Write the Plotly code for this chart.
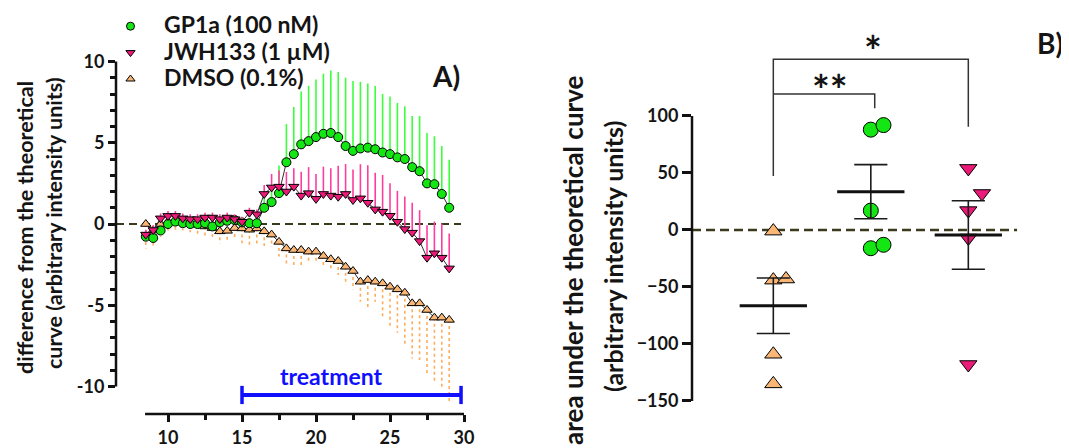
import plotly.graph_objects as go
import numpy as np

# ---------------- Panel A data ----------------
time_min = [8.5, 9, 9.5, 10, 10.5, 11, 11.5, 12, 12.5, 13, 13.5, 14, 14.5, 15, 15.5, 16,
            16.5, 17, 17.5, 18, 18.5, 19, 19.5, 20, 20.5, 21, 21.5, 22, 22.5, 23, 23.5,
            24, 24.5, 25, 25.5, 26, 26.5, 27, 27.5, 28, 28.5, 29]

gp1a_mean = [-0.78, -0.86, -0.40, 0.00, 0.15, 0.05, 0.00, 0.00, 0.05, -0.15, 0.10, 0.20, 0.25, 0.10,
             0.05, 0.05, 1.00, 1.35, 1.90, 3.80, 4.30, 4.90, 5.10, 5.35, 5.55, 5.60, 5.35, 4.80,
             4.50, 4.65, 4.70, 4.60, 4.40, 4.30, 4.10, 4.00, 3.50, 3.25, 2.50, 2.45, 1.85, 1.00]
gp1a_sem = [0.3, 0.3, 0.3, 0.3, 0.3, 0.3, 0.3, 0.3, 0.3, 0.3, 0.3, 0.3, 0.3, 0.3, 0.3, 0.3,
            0.6, 0.8, 1.7, 2.35, 2.9, 3.25, 3.4, 3.55, 3.7, 3.85, 4.0, 4.2, 4.3, 4.1, 3.95,
            3.9, 3.6, 3.55, 3.35, 3.25, 3.15, 3.4, 3.1, 2.95, 2.95, 2.95]

jwh_mean = [-0.65, -0.37, 0.35, 0.50, 0.50, 0.35, 0.30, 0.30, 0.40, 0.40, 0.30, 0.40, 0.30, 0.14,
            0.70, 0.60, 1.85, 2.25, 2.30, 2.00, 2.30, 1.75, 1.90, 1.55, 1.85, 1.75, 1.68, 1.85,
            1.48, 1.58, 1.31, 0.90, 0.76, 0.51, 0.14, -0.31, -0.53, -1.05, -2.07, -1.80, -2.07, -2.73]
jwh_sem = [0.3, 0.3, 0.3, 0.3, 0.3, 0.3, 0.3, 0.3, 0.3, 0.3, 0.3, 0.3, 0.3, 0.3, 0.3, 0.3,
           0.55, 0.83, 1.0, 1.2, 1.13, 1.47, 1.6, 1.53, 1.68, 1.68, 1.9, 1.84, 1.88, 2.1, 2.3,
           2.26, 2.26, 2.0, 1.9, 2.0, 1.84, 1.9, 2.0, 1.95, 2.1, 2.15]

dmso_mean = [0.00, -0.40, 0.00, 0.15, 0.20, 0.10, 0.00, -0.05, -0.15, -0.25, -0.45, -0.42, -0.25, -0.27,
             -0.35, -0.27, -0.45, -0.65, -1.10, -1.50, -1.60, -1.60, -1.70, -1.70, -1.97, -2.17, -2.28,
             -2.63, -2.89, -3.55, -3.45, -3.55, -3.65, -3.86, -4.02, -4.23, -4.88, -4.88, -5.29, -5.76,
             -5.76, -5.90]
dmso_sem = [1.5, 1.0, 0.8, 0.7, 0.6, 0.5, 0.5, 0.55, 0.6, 0.7, 0.75, 0.73, 0.73, 0.92, 1.05, 1.02,
            0.9, 0.75, 0.9, 1.02, 1.03, 1.03, 0.72, 0.72, 0.61, 0.66, 0.86, 1.12, 1.13, 1.23, 1.8,
            1.23, 2.15, 2.5, 2.67, 3.22, 3.39, 3.49, 3.94, 3.94, 4.44, 5.1]

series_names = ["GP1a (100 nM)", "JWH133 (1 µM)", "DMSO (0.1%)"]
treatment_start, treatment_end = 15, 29.8

# ---------------- Panel B data ----------------
groups = ["DMSO", "GP1a", "JWH133"]
dmso_auc = [-1, -44, -43, -109, -135]
gp1a_auc = [88, 92, 17, -16, -13]
jwh_auc = [54, 32, 17, -7, -118]
dmso_jit = [0, 0, 0.13, 0, 0]
gp1a_jit = [0, 0.13, 0, 0, 0.13]
jwh_jit = [0, 0.14, 0, 0, 0]

GREEN, GREEN_E = "#14e614", "#3cff3c"
PINK, PINK_E = "#eb1a78", "#ff3d9e"
ORANGE, ORANGE_E = "#f9b675", "#ffad5c"
FONT = "Lato"
TXT = "#141414"

# page body has an 8px margin: work in figure pixels = reference pixels - OFF
OFF = 8
W, H = 1069 - OFF, 448 - OFF


def px(x):
    return (x - OFF) / W


def py(y):
    return 1 - (y - OFF) / H


fig = go.Figure()

ex, ey = [], []
for t, m, e in zip(time_min, dmso_mean, dmso_sem):
    ex += [t, t, None]
    ey += [m, m - e, None]
fig.add_trace(go.Scatter(x=ex, y=ey, mode="lines", line=dict(color=ORANGE_E, width=1.6, dash="dot"),
                         showlegend=False, hoverinfo="skip", xaxis="x", yaxis="y"))
fig.add_trace(go.Scatter(x=time_min, y=dmso_mean, mode="lines+markers",
                         line=dict(color="#333333", width=1),
                         marker=dict(symbol="triangle-up", size=9, color=ORANGE, line=dict(color="black", width=1)),
                         showlegend=False, xaxis="x", yaxis="y"))
fig.add_trace(go.Scatter(x=time_min, y=gp1a_mean, mode="lines+markers",
                         line=dict(color="#333333", width=1),
                         error_y=dict(type="data", symmetric=False, array=gp1a_sem, arrayminus=[0] * len(gp1a_sem),
                                      width=0, thickness=1.6, color=GREEN_E),
                         marker=dict(symbol="circle", size=9, color=GREEN, line=dict(color="black", width=1)),
                         showlegend=False, xaxis="x", yaxis="y"))
fig.add_trace(go.Scatter(x=time_min, y=jwh_mean, mode="lines+markers",
                         line=dict(color="#333333", width=1),
                         error_y=dict(type="data", symmetric=False, array=jwh_sem, arrayminus=[0] * len(jwh_sem),
                                      width=0, thickness=1.6, color=PINK_E),
                         marker=dict(symbol="triangle-down", size=9, color=PINK, line=dict(color="black", width=1)),
                         showlegend=False, xaxis="x", yaxis="y"))

# legend-only traces
for name, sym, col in zip(series_names, ["circle", "triangle-down", "triangle-up"], [GREEN, PINK, ORANGE]):
    fig.add_trace(go.Scatter(x=[None], y=[None], mode="markers",
                             name='<span style="font-size:23px">%s</span>' % name,
                             marker=dict(symbol=sym, size=8, color=col, line=dict(color="black", width=1)),
                             xaxis="x", yaxis="y"))

# ---------------- Panel B traces ----------------
mean_x, mean_y, sem_x, sem_y = [], [], [], []
for i, (vals, jit, sym, col) in enumerate(zip([dmso_auc, gp1a_auc, jwh_auc], [dmso_jit, gp1a_jit, jwh_jit],
                                              ["triangle-up", "circle", "triangle-down"], [ORANGE, GREEN, PINK])):
    pos = i + 1
    v = np.array(vals, dtype=float)
    m = v.mean()
    s = v.std(ddof=1) / np.sqrt(len(v))
    mean_x += [pos - 0.345, pos + 0.345, None]
    mean_y += [m, m, None]
    sem_x += [pos, pos, None, pos - 0.17, pos + 0.17, None, pos - 0.17, pos + 0.17, None]
    sem_y += [m - s, m + s, None, m + s, m + s, None, m - s, m - s, None]
    fig.add_trace(go.Scatter(x=[pos + j for j in jit], y=vals, mode="markers", showlegend=False,
                             marker=dict(symbol=sym, size=15, color=col, line=dict(color="black", width=1)),
                             xaxis="x2", yaxis="y2"))

fig.add_trace(go.Scatter(x=sem_x, y=sem_y, mode="lines", line=dict(color="#1a1a1a", width=1.6),
                         showlegend=False, hoverinfo="skip", xaxis="x2", yaxis="y2"))
fig.add_trace(go.Scatter(x=mean_x, y=mean_y, mode="lines", line=dict(color="#111111", width=3),
                         showlegend=False, hoverinfo="skip", xaxis="x2", yaxis="y2"))

# ---------------- shapes ----------------
shapes = []
axcol = "#111111"
shapes.append(dict(type="line", xref="x domain", x0=0, x1=0, yref="y", y0=-10, y1=10,
                   line=dict(color=axcol, width=2.5)))
shapes.append(dict(type="line", xref="x", x0=8.45, x1=30, yref="y domain", y0=0, y1=0,
                   line=dict(color=axcol, width=2.5)))
shapes.append(dict(type="line", xref="x", x0=6.486, x1=29.8, yref="y", y0=0, y1=0,
                   line=dict(color="#3a3a1c", width=2, dash="8px,5px"), layer="below"))
ty = -10.52
shapes.append(dict(type="line", xref="x", x0=treatment_start, x1=treatment_end, yref="y", y0=ty, y1=ty,
                   line=dict(color="#1010ff", width=4)))
for tx in (treatment_start, treatment_end):
    shapes.append(dict(type="line", xref="x", x0=tx, x1=tx, yref="y", y0=ty - 0.56, y1=ty + 0.56,
                       line=dict(color="#1010ff", width=3.5)))
shapes.append(dict(type="line", xref="x2 domain", x0=0, x1=0, yref="y2", y0=-150, y1=100,
                   line=dict(color=axcol, width=2.5)))
shapes.append(dict(type="line", xref="x2", x0=0.166, x1=3.5, yref="y2", y0=0, y1=0,
                   line=dict(color="#3a3a1c", width=2.5, dash="9px,5px"), layer="below"))
shapes.append(dict(type="path", xref="x2", yref="y2", path="M 1,47.4 L 1,149.7 L 3,149.7 L 3,90.6",
                   line=dict(color="#333333", width=1.5)))
shapes.append(dict(type="path", xref="x2", yref="y2", path="M 1,119.3 L 2.04,119.3 L 2.04,106.8",
                   line=dict(color="#333333", width=1.5)))


def rot(text, x, y, size):
    return dict(text="<b>%s</b>" % text, x=px(x), y=py(y), xref="paper", yref="paper", textangle=-90,
                showarrow=False, font=dict(family=FONT, size=size, color=TXT), xanchor="center", yanchor="middle")


annotations = [
    rot("difference from the theoretical", 25, 228, 21.5),
    rot("curve (arbitrary intensity units)", 54, 223, 21.5),
    rot("area under the theoretical curve", 573, 260, 26),
    rot("(arbitrary intensity units)", 613, 257, 25),
    dict(text="<b>A)</b>", x=px(446), y=py(76), xref="paper", yref="paper", showarrow=False,
         font=dict(family=FONT, size=28, color=TXT), xanchor="center", yanchor="middle"),
    dict(text="<b>B)</b>", x=px(1050), y=py(43), xref="paper", yref="paper", showarrow=False,
         font=dict(family=FONT, size=28, color=TXT), xanchor="center", yanchor="middle"),
    dict(text="<b>treatment</b>", x=px(331), y=py(376), xref="paper", yref="paper", showarrow=False,
         font=dict(family=FONT, size=23, color="#1010ff"), xanchor="center", yanchor="middle"),
    dict(text="<b>**</b>", x=1.58, y=122.8, xref="x2", yref="y2", showarrow=False,
         font=dict(family=FONT, size=42, color=TXT), xanchor="center", yanchor="middle"),
    dict(text="<b>*</b>", x=2.02, y=157, xref="x2", yref="y2", showarrow=False,
         font=dict(family=FONT, size=42, color=TXT), xanchor="center", yanchor="middle"),
]

tickfont = dict(family=FONT, size=18, color=TXT, weight="bold")

fig.update_layout(
    template="none",
    width=W, height=H,
    margin=dict(l=0, r=0, t=0, b=0, autoexpand=False),
    paper_bgcolor="white", plot_bgcolor="white",
    showlegend=True,
    legend=dict(x=px(131 - 34), y=1, xanchor="left", yanchor="top",
                font=dict(family=FONT, size=18, color=TXT, weight="bold"),
                bgcolor="rgba(0,0,0,0)", borderwidth=0, itemwidth=57, tracegroupgap=0),
    xaxis=dict(domain=[px(116), px(466)], range=[6.486, 30.135], showline=False, showgrid=False, zeroline=False,
               tickvals=[10, 15, 20, 25, 30], ticktext=["10", "15", "20", "25", "30"],
               ticks="outside", ticklen=7, tickwidth=2.5, tickcolor=axcol, tickfont=tickfont,
               minor=dict(tickvals=[12.5, 17.5, 22.5, 27.5], ticks="outside", ticklen=5, tickwidth=2.5,
                          tickcolor=axcol, showgrid=False),
               anchor="y", fixedrange=True, automargin=False),
    yaxis=dict(domain=[py(414), py(55)], range=[-11.69, 10.4], showline=False, showgrid=False, zeroline=False,
               tickvals=[-10, -5, 0, 5, 10], ticktext=["-10", "-5", "0", "5", "10"],
               ticks="outside", ticklen=7, tickwidth=2.5, tickcolor=axcol, tickfont=tickfont,
               minor=dict(tickvals=[-9, -8, -7, -6, -4, -3, -2, -1, 1, 2, 3, 4, 6, 7, 8, 9], ticks="outside",
                          ticklen=5, tickwidth=2.5, tickcolor=axcol, showgrid=False),
               anchor="x", fixedrange=True, automargin=False),
    xaxis2=dict(domain=[px(692), px(1020)], range=[0.166, 3.53], visible=False, anchor="y2", fixedrange=True,
                automargin=False, showgrid=False, zeroline=False),
    yaxis2=dict(domain=[py(410), py(30)], range=[-157.9, 175.4], showline=False, showgrid=False, zeroline=False,
                tickvals=[-150, -100, -50, 0, 50, 100], ticks="outside", ticklen=9, tickwidth=2.5,
                tickcolor=axcol, tickfont=tickfont, anchor="x2", fixedrange=True, automargin=False),
    shapes=shapes,
    annotations=annotations,
)

fig.write_html("out.html")
